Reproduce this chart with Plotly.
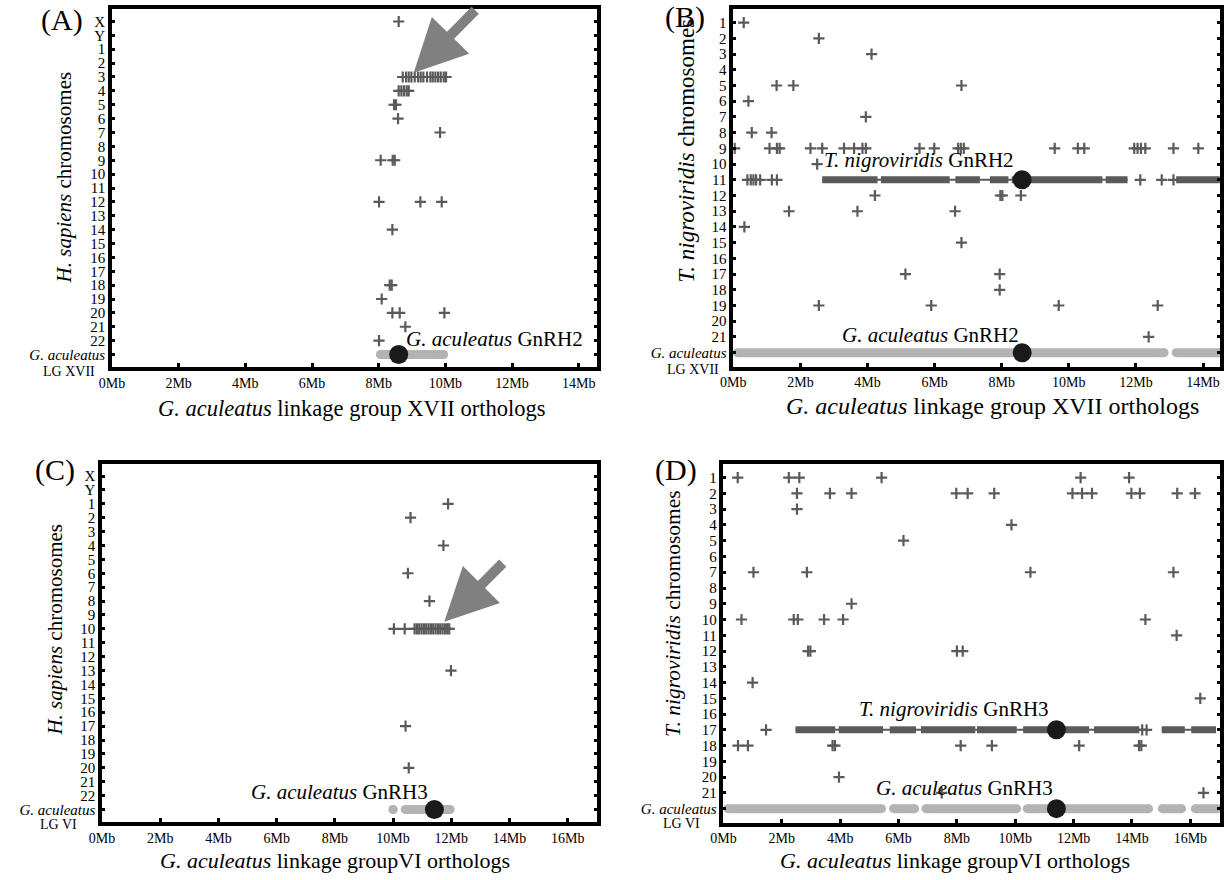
import plotly.graph_objects as go

W, H = 1231, 880
FONT = "Liberation Serif"
CROSS = "#5a5a5a"
GRAY = "#b3b3b3"
DOT = "#1a1a1a"

# ---------------- row (chromosome) labels ----------------
HS_ROWS = ["X", "Y", "1", "2", "3", "4", "5", "6", "7", "8", "9", "10", "11", "12",
           "13", "14", "15", "16", "17", "18", "19", "20", "21", "22", "G. aculeatus"]
TN_ROWS = ["1", "2", "3", "4", "5", "6", "7", "8", "9", "10", "11", "12", "13", "14",
           "15", "16", "17", "18", "19", "20", "21", "G. aculeatus"]
XTICKS_XVII = [0, 2, 4, 6, 8, 10, 12, 14]
XTICKS_VI = [0, 2, 4, 6, 8, 10, 12, 14, 16]

# ---------------- Panel A : H. sapiens vs G. aculeatus LG XVII ----------------
A_rows = ["X", "3", "4", "5", "6", "7", "9", "12", "14", "18", "19", "20", "21", "22"]
A_mb = [[8.6],
        [8.72, 8.82, 8.9, 8.98, 9.08, 9.18, 9.26, 9.34, 9.45, 9.55, 9.62, 9.7, 9.78, 9.86, 9.95, 10.02],
        [8.6, 8.68, 8.76, 8.84, 8.9],
        [8.46, 8.52],
        [8.58],
        [9.84],
        [8.06, 8.42, 8.48],
        [8.01, 9.25, 9.89],
        [8.41],
        [8.33, 8.39],
        [8.09],
        [8.41, 8.63, 9.97],
        [8.8],
        [8.01]]
A_gac_start = [8.05]
A_gac_end = [9.95]
A_gnrh2 = 8.6

# ---------------- Panel B : T. nigroviridis vs G. aculeatus LG XVII ----------------
B_rows = ["1", "2", "3", "5", "6", "7", "8", "9", "10", "11", "12", "13", "14", "15", "17", "18", "19", "21"]
B_mb = [[0.31],
        [2.55],
        [4.12],
        [1.29, 1.79, 6.8],
        [0.45],
        [3.95],
        [0.55, 1.14],
        [0.04, 1.08, 1.3, 1.38, 2.3, 2.65, 3.3, 3.6, 3.85, 3.95, 5.55, 5.99, 6.7, 6.78, 6.87,
         9.58, 10.27, 10.46, 11.95, 12.05, 12.15, 12.28, 13.12, 13.86],
        [2.5],
        [0.42, 0.52, 0.6, 0.68, 0.8, 1.15, 1.3, 12.13, 12.77, 13.12],
        [4.22, 7.96, 8.02, 8.57],
        [1.66, 3.7, 6.61],
        [0.33],
        [6.8],
        [5.13, 7.94],
        [7.94],
        [2.55, 5.9, 9.7, 12.65],
        [12.38]]
B_dense_row = "11"
B_block_start = [2.65, 4.4, 6.62, 7.65, 8.3, 8.75, 11.1, 13.2]
B_block_end = [4.3, 6.45, 7.35, 8.2, 8.5, 11.0, 11.75, 14.5]
B_run_start = [2.65, 13.2]
B_run_end = [11.75, 14.5]
B_gac_start = [0.12, 13.2]
B_gac_end = [12.84, 14.5]
B_gnrh2 = 8.61

# ---------------- Panel C : H. sapiens vs G. aculeatus LG VI ----------------
C_rows = ["1", "2", "4", "6", "8", "10", "13", "17", "20"]
C_mb = [[11.89],
        [10.6],
        [11.73],
        [10.51],
        [11.25],
        [10.03, 10.4, 10.74, 10.82, 10.9, 10.98, 11.06, 11.14, 11.22, 11.3, 11.38, 11.46,
         11.54, 11.62, 11.7, 11.78, 11.86, 11.93],
        [11.99],
        [10.43],
        [10.54]]
C_gac_start = [10.0, 10.42]
C_gac_end = [10.0, 11.96]
C_gnrh3 = 11.42

# ---------------- Panel D : T. nigroviridis vs G. aculeatus LG VI ----------------
D_rows = ["1", "2", "3", "4", "5", "7", "9", "10", "11", "12", "14", "15", "17", "18", "20", "21"]
D_mb = [[0.49, 2.24, 2.6, 5.42, 12.24, 13.9],
        [2.52, 3.65, 4.39, 7.98, 8.37, 9.28, 11.96, 12.29, 12.63, 13.98, 14.27, 15.55, 16.16],
        [2.52],
        [9.87],
        [6.17],
        [1.03, 2.86, 10.52, 15.42],
        [4.39],
        [0.62, 2.41, 2.55, 3.45, 4.1, 14.46],
        [15.53],
        [2.9, 2.98, 8.0, 8.2],
        [1.0],
        [16.34],
        [1.46, 14.35, 14.5],
        [0.5, 0.84, 3.74, 3.82, 8.13, 9.2, 12.19, 14.24, 14.32],
        [3.96],
        [7.48, 16.45]]
D_dense_row = "17"
D_block_start = [2.47, 3.95, 5.7, 6.77, 8.69, 10.27, 11.68, 12.7, 15.02, 16.03]
D_block_end = [3.83, 5.47, 6.6, 8.63, 10.05, 11.12, 12.53, 14.25, 15.81, 16.88]
D_run_start = [2.47, 15.02]
D_run_end = [14.5, 16.88]
D_gac_start = [0.15, 5.83, 6.94, 10.41, 15.04, 16.17]
D_gac_end = [5.42, 6.55, 10.05, 14.57, 15.7, 16.95]
D_gnrh3 = 11.41


# ---------------- helpers ----------------
def px(x):
    return x / W


def py(y):
    return 1 - y / H


def row_index(rows_all, label):
    return rows_all.index(label) + 1


def seg_xy(starts, ends, yv):
    xs, ys = [], []
    for s, e in zip(starts, ends):
        xs += [s, e, None]
        ys += [yv, yv, None]
    return xs, ys


fig = go.Figure()


def add_panel(n, rows_all, rows, mbs, gac_s, gac_e, gnrh, tn_row=None,
              blk_s=None, blk_e=None, run_s=None, run_e=None):
    xa = "x" if n == 1 else f"x{n}"
    ya = "y" if n == 1 else f"y{n}"
    gac_y = row_index(rows_all, "G. aculeatus")
    # G. aculeatus ortholog row (light gray)
    xs, ys = seg_xy(gac_s, gac_e, gac_y)
    fig.add_trace(go.Scatter(x=xs, y=ys, xaxis=xa, yaxis=ya, mode="lines+markers",
                             line=dict(color=GRAY, width=9),
                             marker=dict(color=GRAY, size=9, symbol="circle"),
                             hoverinfo="skip", showlegend=False))
    # dense ortholog clusters
    if tn_row is not None:
        yv = row_index(rows_all, tn_row)
        xs, ys = seg_xy(run_s, run_e, yv)
        fig.add_trace(go.Scatter(x=xs, y=ys, xaxis=xa, yaxis=ya, mode="lines",
                                 line=dict(color=CROSS, width=2), hoverinfo="skip",
                                 showlegend=False))
        xs, ys = seg_xy(blk_s, blk_e, yv)
        fig.add_trace(go.Scatter(x=xs, y=ys, xaxis=xa, yaxis=ya, mode="lines",
                                 line=dict(color=CROSS, width=7), hoverinfo="skip",
                                 showlegend=False))
    # individual orthologs (crosses)
    cx, cy = [], []
    for r, vals in zip(rows, mbs):
        for v in vals:
            cx.append(v)
            cy.append(row_index(rows_all, r))
    fig.add_trace(go.Scatter(x=cx, y=cy, xaxis=xa, yaxis=ya, mode="markers",
                             marker=dict(symbol="cross-thin", size=8,
                                         line=dict(color=CROSS, width=2.2)),
                             hoverinfo="skip", showlegend=False))
    # GnRH genes (black dots)
    dy = [gac_y] if tn_row is None else [row_index(rows_all, tn_row), gac_y]
    fig.add_trace(go.Scatter(x=[gnrh] * len(dy), y=dy, xaxis=xa, yaxis=ya, mode="markers",
                             marker=dict(color=DOT, size=19), hoverinfo="skip",
                             showlegend=False))


add_panel(1, HS_ROWS, A_rows, A_mb, A_gac_start, A_gac_end, A_gnrh2)
add_panel(2, TN_ROWS, B_rows, B_mb, B_gac_start, B_gac_end, B_gnrh2, B_dense_row,
          B_block_start, B_block_end, B_run_start, B_run_end)
add_panel(3, HS_ROWS, C_rows, C_mb, C_gac_start, C_gac_end, C_gnrh3)
add_panel(4, TN_ROWS, D_rows, D_mb, D_gac_start, D_gac_end, D_gnrh3, D_dense_row,
          D_block_start, D_block_end, D_run_start, D_run_end)

tickfont = dict(family=FONT, size=15, color="black")


def xaxis(dom, rng, ticks, anchor):
    return dict(domain=[px(dom[0]), px(dom[1])], range=rng, anchor=anchor,
                tickmode="array", tickvals=ticks, ticktext=[f"{t}Mb" for t in ticks],
                ticks="inside", ticklen=4, tickwidth=2.5, tickcolor="black",
                showline=True, linewidth=3.5, linecolor="black", mirror=True,
                showgrid=False, zeroline=False, tickfont=dict(family=FONT, size=14, color="black"),
                fixedrange=True)


def yaxis(dom, rng, rows_all, anchor):
    txt = ["<i>G. aculeatus</i>" if r == "G. aculeatus" else r for r in rows_all]
    return dict(domain=[py(dom[1]), py(dom[0])], range=rng, anchor=anchor,
                tickmode="array", tickvals=list(range(1, len(rows_all) + 1)), ticktext=txt,
                ticks="inside", ticklen=3, tickwidth=2.5, tickcolor="black",
                showline=True, linewidth=3.5, linecolor="black", mirror="ticks",
                showgrid=False, zeroline=False, tickfont=tickfont, fixedrange=True)


fig.update_layout(
    width=W, height=H, autosize=False,
    margin=dict(l=0, r=0, t=0, b=0),
    paper_bgcolor="white", plot_bgcolor="white",
    xaxis=xaxis((100, 590), [0, 14.54], XTICKS_XVII, "y"),
    yaxis=yaxis((9, 367), [25.9, 0.1], HS_ROWS, "x"),
    xaxis2=xaxis((728, 1220), [0, 14.51], XTICKS_XVII, "y2"),
    yaxis2=yaxis((8.5, 366.5), [22.88, 0.1], TN_ROWS, "x2"),
    xaxis3=xaxis((90, 590), [0, 17.0], XTICKS_VI, "y3"),
    yaxis3=yaxis((463.5, 822), [25.9, 0.1], HS_ROWS, "x3"),
    xaxis4=xaxis((718, 1220), [0, 17.02], XTICKS_VI, "y4"),
    yaxis4=yaxis((463.5, 822.5), [22.88, 0.1], TN_ROWS, "x4"),
)

ann = []


def text(x, y, t, size, xanchor="center", angle=0):
    ann.append(dict(x=px(x), y=py(y), xref="paper", yref="paper", text=t, showarrow=False,
                    xanchor=xanchor, yanchor="middle", textangle=angle,
                    font=dict(family=FONT, size=size, color="black")))


# panel letters
text(50, 20, "(A)", 30)
text(679, 17, "(B)", 30)
text(42, 470, "(C)", 30)
text(670, 470, "(D)", 30)
# axis titles
text(52, 177, "<i>H. sapiens</i> chromosomes", 21, angle=-90)
text(680, 151, "<i>T. nigroviridis</i> chromosomes", 23, angle=-90)
text(42, 630, "<i>H. sapiens</i> chromosomes", 21, angle=-90)
text(667, 613, "<i>T. nigroviridis</i> chromosomes", 21.5, angle=-90)
text(342, 408, "<i>G. aculeatus</i> linkage group XVII orthologs", 22.5)
text(990, 406, "<i>G. aculeatus</i> linkage group XVII orthologs", 24)
text(325, 860, "<i>G. aculeatus</i> linkage groupVI orthologs", 22)
text(952, 860, "<i>G. aculeatus</i> linkage groupVI orthologs", 22)
# LG labels under the G. aculeatus row label
text(57, 371, "LG XVII", 14)
text(687, 370, "LG XVII", 14)
text(46, 824, "LG VI", 14)
text(676, 823, "LG VI", 14)
# gene labels
text(395, 339, "<i>G. aculeatus</i> GnRH2", 21, xanchor="left")
text(818, 160, "<i>T. nigroviridis</i> GnRH2", 21, xanchor="left")
text(836, 335, "<i>G. aculeatus</i> GnRH2", 21, xanchor="left")
text(239, 792, "<i>G. aculeatus</i> GnRH3", 21, xanchor="left")
text(853, 709, "<i>T. nigroviridis</i> GnRH3", 21, xanchor="left")
text(870, 788, "<i>G. aculeatus</i> GnRH3", 21, xanchor="left")

# gray arrows pointing at the conserved human block
ann.append(dict(x=9.05, y=4.7, xref="x", yref="y", ax=63, ay=-64, text="", showarrow=True,
                arrowhead=2, arrowsize=1.05, arrowwidth=10, arrowcolor="#808080", standoff=0))
ann.append(dict(x=11.76, y=11.48, xref="x3", yref="y3", ax=60, ay=-60, text="", showarrow=True,
                arrowhead=2, arrowsize=1.05, arrowwidth=10, arrowcolor="#808080", standoff=0))

fig.update_layout(annotations=ann)
fig.write_html("out.html", config={"displayModeBar": False},
               post_script="document.body.style.margin='0px';document.body.style.overflow='hidden';")
